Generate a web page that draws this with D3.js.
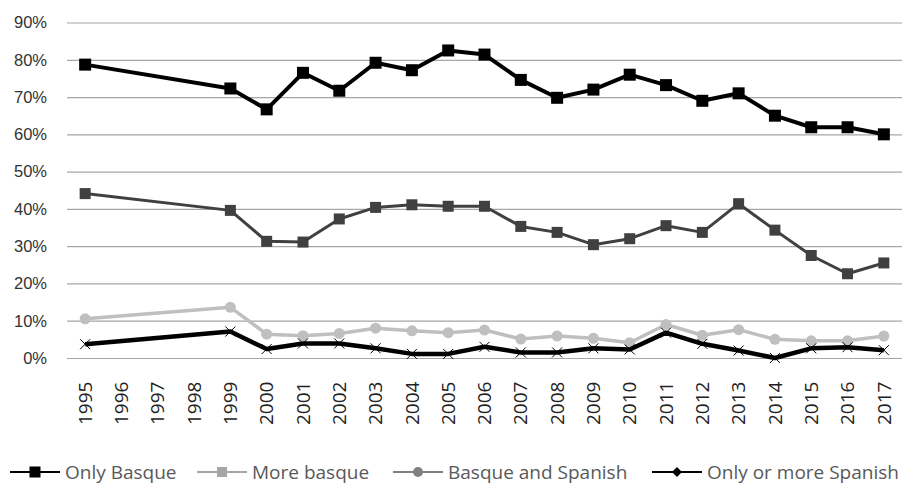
<!DOCTYPE html>
<html>
<head>
<meta charset="utf-8">
<script src="https://cdn.jsdelivr.net/npm/d3@7"></script>
<style>
  body { margin: 0; background: #fff; }
  svg { display: block; }
</style>
</head>
<body>
<svg id="chart"></svg>
<script>
const years = ['1995', '1996', '1997', '1998', '1999', '2000', '2001', '2002', '2003', '2004', '2005',
  '2006', '2007', '2008', '2009', '2010', '2011', '2012', '2013', '2014', '2015', '2016', '2017'];

// values in %, null where the survey has no data
const onlyBasque = [78.7, null, null, null, 72.3, 66.7, 76.5, 71.7, 79.2, 77.2, 82.5,
  81.4, 74.6, 69.8, 72.0, 76.0, 73.2, 69.0, 71.0, 65.0, 61.9, 61.9, 60.0];
const moreBasque = [10.5, null, null, null, 13.6, 6.4, 6.0, 6.6, 8.0, 7.3, 6.8,
  7.5, 5.1, 5.9, 5.3, 4.1, 9.0, 6.1, 7.6, 5.0, 4.6, 4.6, 5.9];
const basqueAndSpanish = [44.1, null, null, null, 39.6, 31.3, 31.1, 37.3, 40.4, 41.1, 40.7,
  40.7, 35.3, 33.7, 30.4, 32.0, 35.5, 33.7, 41.4, 34.3, 27.5, 22.6, 25.5];
const onlyOrMoreSpanish = [3.7, null, null, null, 7.1, 2.4, 3.9, 3.9, 2.6, 1.1, 1.1,
  3.0, 1.5, 1.5, 2.6, 2.3, 6.8, 3.8, 2.0, 0.0, 2.6, 2.9, 2.1];

const yTicks = [0, 10, 20, 30, 40, 50, 60, 70, 80, 90];

const width = 915;
const height = 485;
const margin = { top: 22.5, right: 13, bottom: 127, left: 67 };

const svg = d3.select('#chart').attr('width', width).attr('height', height);

const x = d3.scaleBand()
  .domain(years)
  .range([margin.left, width - margin.right])
  .padding(0);

const y = d3.scaleLinear()
  .domain([0, 90])
  .range([height - margin.bottom, margin.top]);

// gridlines + y labels
const yAxis = svg.append('g')
  .attr('transform', `translate(${margin.left},0)`)
  .call(d3.axisLeft(y)
    .tickValues(yTicks)
    .tickFormat((d) => d + '%')
    .tickSize(-(width - margin.left - margin.right))
    .tickPadding(20));
yAxis.select('.domain').remove();
yAxis.selectAll('.tick line').attr('stroke', '#a6a6a6').attr('stroke-width', 1.2);
yAxis.selectAll('.tick text')
  .attr('fill', '#333')
  .style('font-family', '"Liberation Sans", Arial, sans-serif')
  .style('font-size', '16.5px');

// x labels, rotated
const xAxis = svg.append('g')
  .attr('transform', `translate(0,${height - margin.bottom})`)
  .call(d3.axisBottom(x).tickSize(0).tickPadding(0));
xAxis.select('.domain').remove();
xAxis.selectAll('.tick text')
  .attr('transform', 'rotate(-90)')
  .attr('x', -67)
  .attr('y', 0)
  .attr('dy', '0.35em')
  .attr('text-anchor', 'start')
  .attr('fill', '#222')
  .style('font-family', '"Open Sans", sans-serif')
  .style('font-size', '19px');

const cx = (i) => x(years[i]) + x.bandwidth() / 2;

function points(values) {
  return values.map((v, i) => ({ i, v })).filter((d) => d.v !== null);
}

const line = d3.line().x((d) => cx(d.i)).y((d) => y(d.v));

const series = [
  { name: 'Basque and Spanish', values: basqueAndSpanish, color: '#404040', width: 3, marker: 'square', size: 11 },
  { name: 'More basque', values: moreBasque, color: '#bfbfbf', width: 3.5, marker: 'circle', size: 11 },
  { name: 'Only or more Spanish', values: onlyOrMoreSpanish, color: '#000', width: 4.5, marker: 'x', size: 10 },
  { name: 'Only Basque', values: onlyBasque, color: '#000', width: 4, marker: 'square', size: 12 },
];

function drawMarker(g, type, px, py, color, size) {
  if (type === 'square') {
    g.append('rect')
      .attr('x', px - size / 2).attr('y', py - size / 2)
      .attr('width', size).attr('height', size)
      .attr('fill', color);
  } else if (type === 'circle') {
    g.append('circle').attr('cx', px).attr('cy', py).attr('r', size / 2).attr('fill', color);
  } else if (type === 'diamond') {
    g.append('path')
      .attr('d', `M${px},${py - size / 2}L${px + size / 2},${py}L${px},${py + size / 2}L${px - size / 2},${py}Z`)
      .attr('fill', color);
  } else if (type === 'x') {
    const h = size / 2;
    g.append('path')
      .attr('d', `M${px - h},${py - h}L${px + h},${py + h}M${px - h},${py + h}L${px + h},${py - h}`)
      .attr('stroke', color).attr('stroke-width', 1).attr('fill', 'none');
  }
}

series.forEach((s) => {
  const g = svg.append('g');
  const pts = points(s.values);
  g.append('path')
    .datum(pts)
    .attr('d', line)
    .attr('fill', 'none')
    .attr('stroke', s.color)
    .attr('stroke-width', s.width)
    .attr('stroke-linejoin', 'round');
  pts.forEach((d) => drawMarker(g, s.marker, cx(d.i), y(d.v), s.color, s.size));
});

// legend (as in the original, its symbols differ from the plotted markers)
const legendItems = [
  { name: 'Only Basque', color: '#000', marker: 'square', size: 11, x: 10 },
  { name: 'More basque', color: '#a6a6a6', marker: 'square', size: 10, x: 197 },
  { name: 'Basque and Spanish', color: '#808080', marker: 'circle', size: 10, x: 393 },
  { name: 'Only or more Spanish', color: '#000', marker: 'diamond', size: 10, x: 652 },
];
const legendY = 472;
const legend = svg.append('g');
legendItems.forEach((item) => {
  const g = legend.append('g');
  g.append('line')
    .attr('x1', item.x).attr('x2', item.x + 50)
    .attr('y1', legendY).attr('y2', legendY)
    .attr('stroke', item.color).attr('stroke-width', 2);
  drawMarker(g, item.marker, item.x + 25, legendY, item.color, item.size);
  g.append('text')
    .attr('x', item.x + 55)
    .attr('y', legendY)
    .attr('dy', '0.35em')
    .attr('fill', '#595959')
    .style('font-family', '"Open Sans", sans-serif')
    .style('font-size', '19px')
    .text(item.name);
});
</script>
</body>
</html>
